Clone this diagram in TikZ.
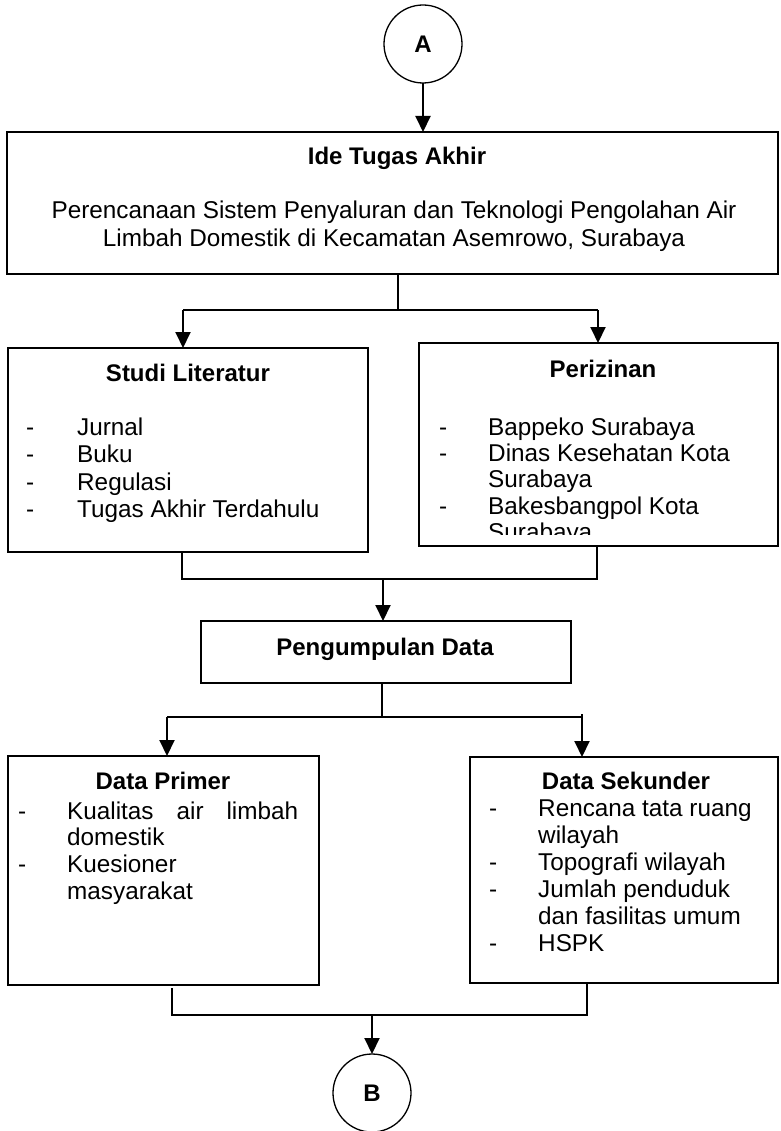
\documentclass[tikz,border=0pt]{standalone}
\usepackage{fontspec}
\setmainfont{Liberation Sans}
\usetikzlibrary{arrows.meta}
\begin{document}
\begin{tikzpicture}[x=1pt,y=-1pt,
  box/.style={draw, line width=1.3pt, inner sep=0pt, outer sep=0pt, fill=none},
  circ/.style={draw, circle, minimum size=78pt, line width=1.3pt, inner sep=0pt, outer sep=0pt, font=\bfseries\fontsize{24}{27}\selectfont},
  ttl/.style={inner sep=0pt, anchor=base, font=\bfseries\fontsize{24}{27}\selectfont},
  txtc/.style={inner sep=0pt, anchor=base, font=\fontsize{24.3}{27}\selectfont},
  txt/.style={inner sep=0pt, anchor=base west, font=\fontsize{24.3}{27}\selectfont},
  ln/.style={line width=1.3pt},
  arr/.style={line width=2pt, -{Triangle[width=15pt,length=16pt]}}]
\useasboundingbox (0,0) rectangle (780,1131);
\fill[white] (0,0) rectangle (780,1131);

% circles
\node[circ] (cA) at (423,44) {A};
\node[circ] (cB) at (372,1093) {B};

% boxes
\node[box, minimum width=771pt, minimum height=142pt] (ide) at (392.5,203) {};
\node[box, minimum width=360pt, minimum height=204pt] (studi) at (188,450) {};
\node[box, minimum width=359pt, minimum height=203pt] (periz) at (598.5,444.5) {};
\node[box, minimum width=370pt, minimum height=62pt] (peng) at (386,652) {};
\node[box, minimum width=311pt, minimum height=229pt] (primer) at (163.5,870.5) {};
\node[box, minimum width=308pt, minimum height=226pt] (sek) at (624,870) {};

% Ide text
\node[ttl] (ideT) at (397,165) {Ide Tugas Akhir};
\node[txtc] (ideL1) at (394,219) {Perencanaan Sistem Penyaluran dan Teknologi Pengolahan Air};
\node[txtc] (ideL2) at (394,247) {Limbah Domestik di Kecamatan Asemrowo, Surabaya};

% Studi Literatur
\node[ttl] (studiT) at (188,381) {Studi Literatur};
\node[txt] (sd1) at (26,435) {-};
\node[txt] (sd2) at (26,462) {-};
\node[txt] (sd3) at (26,490) {-};
\node[txt] (sd4) at (26,517) {-};
\node[txt] (st1) at (77,435) {Jurnal};
\node[txt] (st2) at (77,462) {Buku};
\node[txt] (st3) at (77,490) {Regulasi};
\node[txt] (st4) at (77,517) {Tugas Akhir Terdahulu};

% Perizinan
\node[ttl] (perizT) at (603,377) {Perizinan};
\begin{scope}
\clip (419,343) rectangle (778,534);
\node[txt] (pd1) at (439,435) {-};
\node[txt] (pd2) at (439,461) {-};
\node[txt] (pd3) at (439,514) {-};
\node[txt] (pt1) at (488,435) {Bappeko Surabaya};
\node[txt] (pt2) at (488,461) {Dinas Kesehatan Kota};
\node[txt] (pt3) at (488,487) {Surabaya};
\node[txt] (pt4) at (488,514) {Bakesbangpol Kota};
\node[txt] (pt5) at (488,540) {Surabaya};
\end{scope}

% Pengumpulan Data
\node[ttl] (pengT) at (385,655) {Pengumpulan Data};

% Data Primer
\node[ttl] (primT) at (163,789) {Data Primer};
\node[txt] (rd1) at (18,819) {-};
\node[txt] (rd2) at (18,872) {-};
\node[txt] (rt1) at (67,819) {\hbox to 231pt{Kualitas\hfill air\hfill limbah}};
\node[txt] (rt2) at (67,845) {domestik};
\node[txt] (rt3) at (67,872) {Kuesioner};
\node[txt] (rt4) at (67,899) {masyarakat};

% Data Sekunder
\node[ttl] (sekT) at (626,789) {Data Sekunder};
\node[txt] (kd1) at (489,816) {-};
\node[txt] (kd2) at (489,870) {-};
\node[txt] (kd3) at (489,897) {-};
\node[txt] (kd4) at (489,951) {-};
\node[txt] (kt1) at (538,816) {Rencana tata ruang};
\node[txt] (kt2) at (538,843) {wilayah};
\node[txt] (kt3) at (538,870) {Topografi wilayah};
\node[txt] (kt4) at (538,897) {Jumlah penduduk};
\node[txt] (kt5) at (538,924) {dan fasilitas umum};
\node[txt] (kt6) at (538,951) {HSPK};

% connectors
\draw[arr] (cA.south) -- (cA.south |- ide.north);

\coordinate (j1) at (398,310);
\coordinate (sL) at (183,310);
\coordinate (sR) at (598,310);
\draw[ln] (ide.south -| j1) -- (j1);
\draw[ln] (sL) -- (sR);
\draw[arr] (sL) -- (sL |- studi.north);
\draw[arr] (sR) -- (sR |- periz.north);

\coordinate (m1) at (182,579);
\coordinate (m2) at (597,579);
\coordinate (m3) at (383,579);
\draw[ln] (studi.south -| m1) -- (m1) -- (m2) -- (periz.south -| m2);
\draw[arr] (m3) -- (m3 |- peng.north);

\coordinate (n1) at (382,717);
\coordinate (nL) at (167,717);
\coordinate (nR) at (582,717);
\coordinate (nRt) at (582,714);
\draw[ln] (peng.south -| n1) -- (n1);
\draw[ln] (nL) -- (nR);
\draw[arr] (nL) -- (nL |- primer.north);
\draw[arr] (nRt) -- (nRt |- sek.north);

\coordinate (b1) at (172,988);
\coordinate (bL) at (172,1015);
\coordinate (bR) at (587,1015);
\coordinate (bM) at (372,1015);
\draw[ln] (b1) -- (bL) -- (bR) -- (sek.south -| bR);
\draw[arr] (bM) -- (cB.north);
\end{tikzpicture}
\end{document}
